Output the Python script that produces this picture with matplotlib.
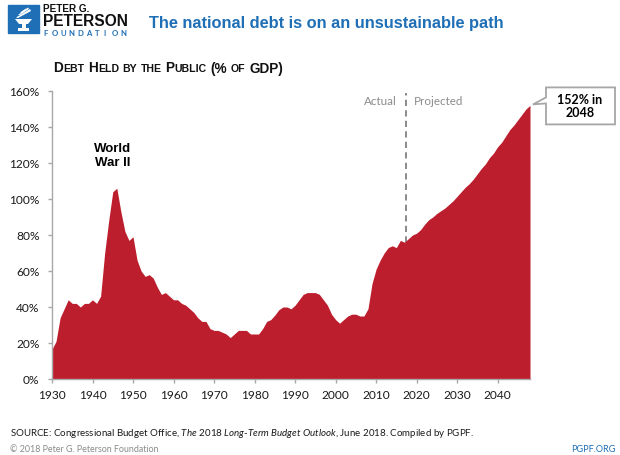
import matplotlib
matplotlib.use('Agg')
import matplotlib.pyplot as plt
from matplotlib import font_manager
from matplotlib.patches import Polygon, Rectangle
from matplotlib.transforms import Affine2D, IdentityTransform
import numpy as np

# debt held by the public, % of GDP (actual to 2017, CBO projection after)
years = list(range(1930, 2049))
debt = [16.5, 21, 34, 39, 44, 42, 42, 40, 42, 42,            # 1930s
        44, 42, 46, 70, 88, 104, 106, 93, 82, 77,            # 1940s
        79, 66, 60, 57, 58, 56, 51, 47, 48, 46,              # 1950s
        44, 44, 42, 41, 39, 37, 34, 32, 32, 28,              # 1960s
        27, 27, 26, 25, 23, 25, 27, 27, 27, 25,              # 1970s
        25, 25, 28, 32, 33, 35.5, 38.5, 40, 40, 39,          # 1980s
        41, 44, 47, 48, 48, 48, 47, 44, 41, 36,              # 1990s
        33, 31, 33, 35, 36, 36, 35, 35, 39, 53,              # 2000s
        61, 66, 70, 73, 74, 73, 77, 76, 78, 80,              # 2010s
        81, 83, 86, 88.5, 90, 92, 93.5, 95, 97, 99,          # 2020s
        101.5, 104, 106.5, 108.5, 111, 114, 117, 119.5, 123, 125.5,  # 2030s
        129, 131.5, 135, 138.5, 141, 144, 147, 150, 152]     # 2040s
split_year = 2017.3
x_ticks = [1930, 1940, 1950, 1960, 1970, 1980, 1990, 2000, 2010, 2020, 2030, 2040]
y_ticks = [0, 20, 40, 60, 80, 100, 120, 140, 160]

RED = '#bd1e2d'
BLUE = '#1f6fb6'
GRAY = '#8c8c8c'

names = {f.name for f in font_manager.fontManager.ttflist}
NARROW = 'Liberation Sans Narrow' if 'Liberation Sans Narrow' in names else 'Liberation Sans'

plt.rcParams['font.family'] = ['Lato', 'DejaVu Sans']
plt.rcParams['mathtext.fontset'] = 'custom'
plt.rcParams['mathtext.rm'] = 'Lato'
plt.rcParams['mathtext.it'] = 'Lato:italic'

W, H = 620, 456
fig = plt.figure(figsize=(6.2, 4.56), dpi=100)
renderer = fig.canvas.get_renderer()
PX = Affine2D().scale(1, -1).translate(0, H)   # pixel coords, y down


def fx(x):
    return x / W


def fy(y):
    return 1 - y / H


def fit_width(t, width_px):
    w = t.get_window_extent(renderer).width
    t.set_fontsize(t.get_fontsize() * width_px / w)


# ---- chart
ax = fig.add_axes([fx(52), fy(380), 478 / W, 288 / H])
ax.fill_between(years, 0, debt, color=RED, lw=0, zorder=2)
ax.plot([split_year, split_year], [0, 159], ls=(0, (3.2, 2.2)), color='#8a8a8a',
        lw=1.4, zorder=1)
ax.set_xlim(1930, 2048)
ax.set_ylim(0, 160)
ax.set_xticks(x_ticks)
ax.set_yticks(y_ticks)
ax.yaxis.set_major_formatter(lambda v, p: f'{v:.0f}%')
for s in ['top', 'right']:
    ax.spines[s].set_visible(False)
for s in ['left', 'bottom']:
    ax.spines[s].set_color('#a8a8a8')
    ax.spines[s].set_linewidth(1.0)
ax.tick_params(axis='both', length=3, width=1, color='#a8a8a8',
               labelsize=8.6, labelcolor='#1a1a1a')
ax.tick_params(axis='y', pad=6)
ax.tick_params(axis='x', pad=4)

ax.text(split_year - 2.3, 154.5, 'Actual', ha='right', va='center',
        color=GRAY, fontsize=8.4)
ax.text(split_year + 2.0, 154.5, 'Projected', ha='left', va='center',
        color=GRAY, fontsize=8.4)
ax.text(1945, 124.5, 'World\nWar II', ha='center', va='center', fontsize=9.5,
        fontweight='bold', family=NARROW, linespacing=1.15)

# callout for the last value
tx, ty = ax.transData.transform((years[-1], debt[-1]))
tx, ty = tx + 3, ty + 1
box = [(tx + 13, ty + 17), (tx + 82, ty + 17), (tx + 82, ty - 20),
       (tx + 13, ty - 20), (tx + 13, ty + 1), (tx, ty), (tx + 13, ty + 7)]
ax.add_patch(Polygon(box, closed=True, transform=IdentityTransform(),
                     facecolor='white', edgecolor='#a6a6a6', lw=1.3,
                     clip_on=False, zorder=5))
ax.annotate(f'{debt[-1]:.0f}% in\n{years[-1]}', xy=(years[-1], debt[-1]),
            xytext=(50 * 0.72, 0), textcoords='offset points',
            ha='center', va='center', fontsize=9, fontweight='bold',
            linespacing=1.1, annotation_clip=False, zorder=6)

# ---- header: logo
fig.add_artist(Rectangle((8, 6), 31, 28, transform=PX, color=BLUE))
for pts in [[(15, 20), (32, 20), (28, 25), (19, 25)],
            [(21.5, 25), (25.5, 25), (25.5, 29), (21.5, 29)],
            [(18, 29), (29, 29), (29, 31.5), (18, 31.5)],
            [(16, 18.5), (30, 10), (31, 12), (18, 19)],
            [(18, 16), (28, 8.5), (29, 10), (20, 16)],
            [(20, 13.5), (26, 9.5), (26.5, 10.5), (22, 14)]]:
    fig.add_artist(Polygon(pts, closed=True, transform=PX, color='white', lw=0))

fig.text(fx(43), fy(8.5), 'PETER G.', fontsize=7.2, fontweight='bold',
         family=NARROW, va='center', color='#111111')
t = fig.text(fx(43), fy(22), 'PETERSON', fontsize=12, fontweight='bold',
             family=NARROW, va='center', color='#111111')
fit_width(t, 85)
letters = 'FOUNDATION'
for i, ch in enumerate(letters):
    fig.text(fx(43 + i * 8.6), fy(34), ch, fontsize=5.6, fontweight='bold',
             va='center', color=BLUE)

t = fig.text(fx(149), fy(24), 'The national debt is on an unsustainable path',
             fontsize=13, family=NARROW, fontweight='bold', va='center',
             color=BLUE)
fit_width(t, 355)

# ---- subtitle in small caps
runs = [('D', 1), ('EBT', 0), (' ', 0), ('H', 1), ('ELD', 0), (' ', 0),
        ('BY', 0), (' ', 0), ('THE', 0), (' ', 0), ('P', 1), ('UBLIC', 0),
        (' ', 0), ('(%', 1), (' ', 0), ('OF', 0), (' ', 0), ('GDP)', 1)]
x = 53
for s, big in runs:
    if s == ' ':
        x += 3.2
        continue
    t = fig.text(fx(x), fy(72.5), s, fontsize=9.8 if big else 7.6,
                 fontweight='bold', family=NARROW, va='baseline',
                 color='#111111')
    x += t.get_window_extent(renderer).width + 0.4

# ---- footer
fig.text(fx(10), fy(433.5),
         r'SOURCE: Congressional Budget Office, $\it{The\ 2018\ Long}$-'
         r'$\it{Term\ Budget\ Outlook}$, June 2018. Compiled by PGPF.',
         fontsize=7.0, va='center', color='#1a1a1a')
fig.text(fx(10), fy(450), '\u00a9 2018 Peter G. Peterson Foundation',
         fontsize=6.4, va='center', color='#8a8a8a')
fig.text(fx(615), fy(450), 'PGPF.ORG', fontsize=6.6, va='center', ha='right',
         color=BLUE)

fig.savefig('out.png', dpi=100)
